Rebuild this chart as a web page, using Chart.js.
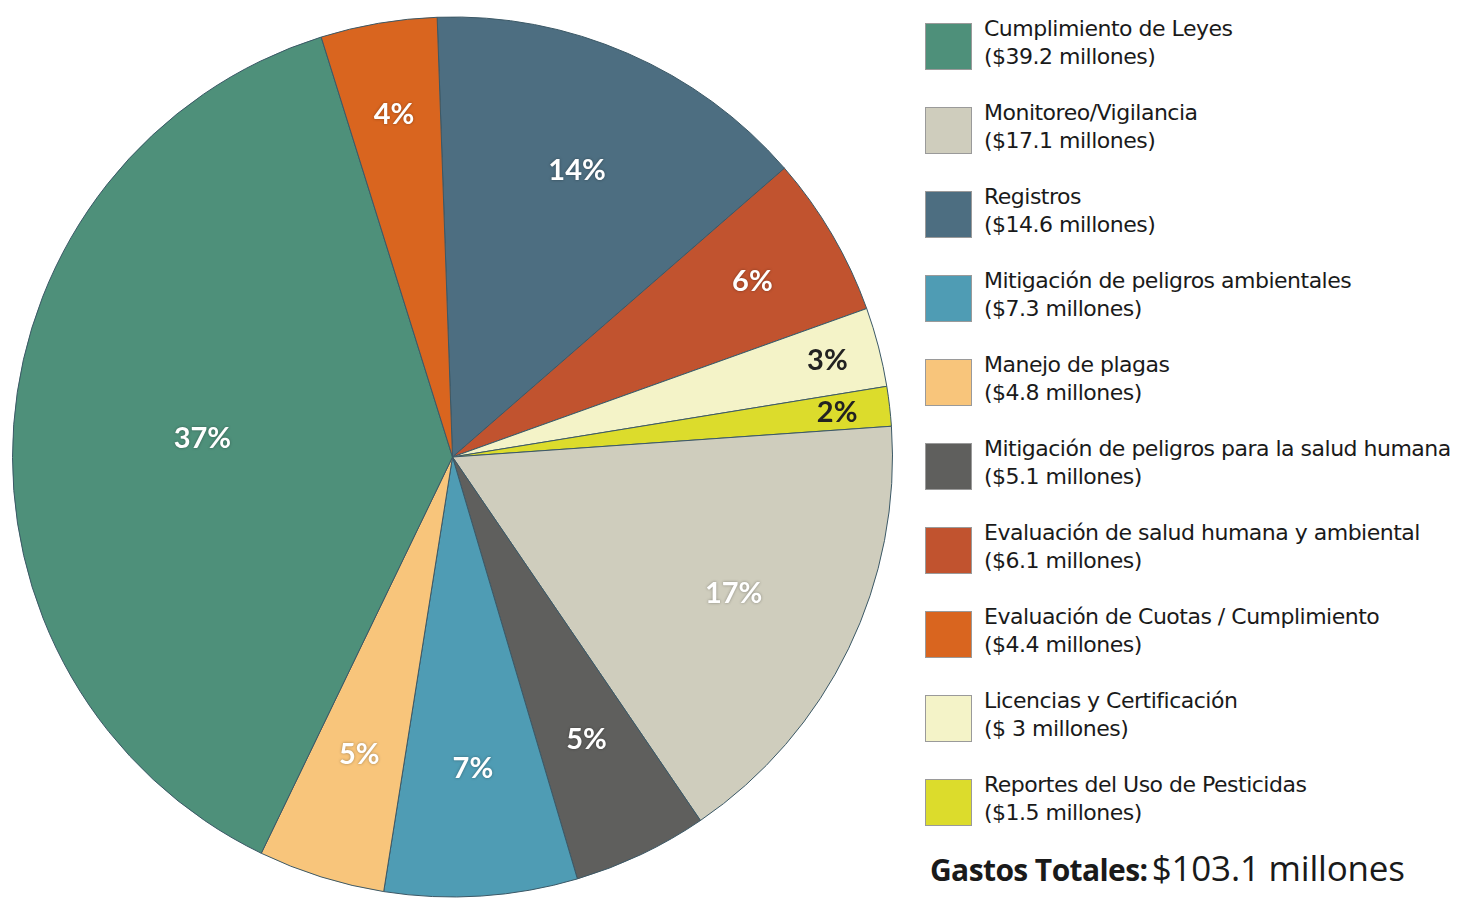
<!DOCTYPE html>
<html>
<head>
<meta charset="utf-8">
<script src="https://cdn.jsdelivr.net/npm/chart.js@4.4.1/dist/chart.umd.min.js"></script>
<style>
  html, body { margin: 0; padding: 0; background: #fff; }
  body { width: 1471px; height: 898px; position: relative; overflow: hidden; }
  #pie-wrap { position: absolute; left: 0; top: 0; width: 904px; height: 898px; }
  #legend { position: absolute; left: 925px; top: 23px; font-family: "DejaVu Sans", sans-serif; font-size: 22px; color: #1a1a1a; }
  .item { display: flex; height: 84px; }
  .swatch { width: 47px; height: 47px; box-sizing: border-box; border: 1px solid #9a9a9a; flex: none; }
  .txt { margin-left: 12px; margin-top: -8px; line-height: 28px; letter-spacing: -0.5px; white-space: nowrap; }
  #total { position: absolute; left: 930px; top: 844px; white-space: nowrap; color: #1a1a1a; font-family: "Open Sans", sans-serif; }
  #total b { font-size: 30px; letter-spacing: -0.6px; }
  #total span { font-size: 35px; letter-spacing: -0.2px; }
</style>
</head>
<body>
<div id="pie-wrap"><canvas id="chart-pie-gastos"></canvas></div>
<div id="legend"></div>
<div id="total"><b>Gastos Totales:</b> <span>$103.1 millones</span></div>
<script>
// slices, clockwise from the top
var categorias = [
  "Registros",
  "Evaluación de salud humana y ambiental",
  "Licencias y Certificación",
  "Reportes del Uso de Pesticidas",
  "Monitoreo/Vigilancia",
  "Mitigación de peligros para la salud humana",
  "Mitigación de peligros ambientales",
  "Manejo de plagas",
  "Cumplimiento de Leyes",
  "Evaluación de Cuotas / Cumplimiento",
];
var millones = [14.6, 6.1, 3, 1.5, 17.1, 5.1, 7.3, 4.8, 39.2, 4.4];
var montos = [
  "($14.6 millones)",
  "($6.1 millones)",
  "($ 3 millones)",
  "($1.5 millones)",
  "($17.1 millones)",
  "($5.1 millones)",
  "($7.3 millones)",
  "($4.8 millones)",
  "($39.2 millones)",
  "($4.4 millones)",
];
var porcentajes = ["14%", "6%", "3%", "2%", "17%", "5%", "7%", "5%", "37%", "4%"];
// legend order (indexes into categorias)
var ordenLeyenda = [8, 4, 0, 6, 7, 5, 1, 9, 2, 3];

var colores = [
  "#4d6e81", "#c1532f", "#f4f3c8", "#dcdc2c", "#cfcdbd",
  "#5f5f5d", "#4f9cb4", "#f8c57b", "#4e907a", "#d9651f",
];
var coloresTexto = ["#fff", "#fff", "#222", "#222", "#fff", "#fff", "#fff", "#fff", "#fff", "#fff"];

var etiquetasPlugin = {
  id: "etiquetas",
  afterDatasetsDraw: function (chart) {
    var ctx = chart.ctx;
    var meta = chart.getDatasetMeta(0);
    ctx.save();
    ctx.font = "bold 29px Lato";
    ctx.textAlign = "center";
    ctx.textBaseline = "middle";
    meta.data.forEach(function (arc, i) {
      var span = (arc.endAngle - arc.startAngle) * 180 / Math.PI;
      var mid = (arc.startAngle + arc.endAngle) / 2;
      var upper = Math.sin(mid) < 0;
      var f = 0.71;
      if (span < 12) f = 0.88;
      else if (span < 22 && upper) f = 0.79;
      else if (span > 90) f = 0.57;
      var r = arc.outerRadius * f;
      var x = arc.x + Math.cos(mid) * r;
      var y = arc.y + Math.sin(mid) * r;
      if (coloresTexto[i] === "#fff") {
        ctx.shadowColor = "rgba(0,0,0,0.35)";
        ctx.shadowBlur = 3;
      } else {
        ctx.shadowColor = "transparent";
        ctx.shadowBlur = 0;
      }
      ctx.fillStyle = coloresTexto[i];
      ctx.fillText(porcentajes[i], x, y);
    });
    ctx.restore();
  },
};

var ctx = document.getElementById("chart-pie-gastos").getContext("2d");

var chart = new Chart(ctx, {
  type: "pie",
  data: {
    labels: categorias,
    datasets: [
      {
        data: millones,
        backgroundColor: colores,
        borderColor: "#3b5866",
        borderWidth: 1,
      },
    ],
  },
  options: {
    responsive: true,
    maintainAspectRatio: false,
    animation: false,
    rotation: -2,
    layout: {
      padding: { left: 12, right: 11, top: 16, bottom: 0 },
    },
    plugins: {
      legend: { display: false },
      tooltip: { enabled: false },
    },
  },
  plugins: [etiquetasPlugin],
});

// legend built from the chart's own labels and colours
var leyenda = document.getElementById("legend");
ordenLeyenda.forEach(function (i) {
  var item = document.createElement("div");
  item.className = "item";
  var sw = document.createElement("div");
  sw.className = "swatch";
  sw.style.background = chart.data.datasets[0].backgroundColor[i];
  var txt = document.createElement("div");
  txt.className = "txt";
  txt.innerHTML = chart.data.labels[i] + "<br>" + montos[i];
  item.appendChild(sw);
  item.appendChild(txt);
  leyenda.appendChild(item);
});
</script>
</body>
</html>
